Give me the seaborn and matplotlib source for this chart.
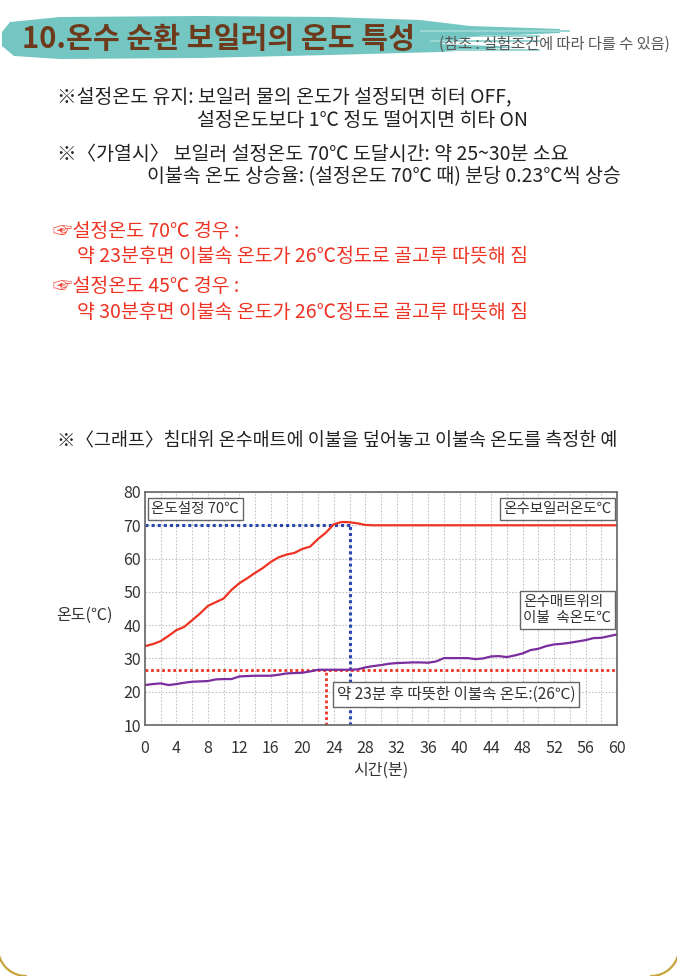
import numpy as np
import matplotlib
matplotlib.use("Agg")
import matplotlib.pyplot as plt
import seaborn as sns
from matplotlib.patches import Polygon, Rectangle
from matplotlib.lines import Line2D

# ---- data ----
minutes = np.arange(0, 61)
boiler_temp = [33.7, 34.3, 35.2, 36.8, 38.5, 39.5, 41.5, 43.5, 45.8, 46.9,
               48.0, 50.6, 52.6, 54.1, 55.7, 57.2, 59.0, 60.4, 61.2, 61.7,
               62.9, 63.6, 65.9, 67.8, 70.3, 71.0, 70.9, 70.6, 70.1, 70.0,
               70.0, 70.0, 70.0, 70.0, 70.0, 70.0, 70.0, 70.0, 70.0, 70.0,
               70.0, 70.0, 70.0, 70.0, 70.0, 70.0, 70.0, 70.0, 70.0, 70.0,
               70.0, 70.0, 70.0, 70.0, 70.0, 70.0, 70.0, 70.0, 70.0, 70.0,
               70.0]
mat_temp = [22.0, 22.3, 22.5, 22.0, 22.3, 22.7, 23.0, 23.1, 23.2, 23.7,
            23.8, 23.8, 24.6, 24.7, 24.8, 24.8, 24.8, 25.1, 25.5, 25.6,
            25.7, 26.1, 26.6, 26.6, 26.6, 26.6, 26.6, 26.7, 27.3, 27.7,
            28.0, 28.4, 28.6, 28.7, 28.8, 28.8, 28.7, 29.1, 30.1, 30.1,
            30.1, 30.1, 29.8, 30.0, 30.6, 30.7, 30.4, 30.9, 31.5, 32.5,
            32.9, 33.7, 34.2, 34.4, 34.7, 35.1, 35.5, 36.1, 36.2, 36.7,
            37.2]
set_temp = 70
reach_min = 26
warm_temp = 26.5
warm_min = 23
x_ticks = [0, 4, 8, 12, 16, 20, 24, 28, 32, 36, 40, 44, 48, 52, 56, 60]
y_ticks = [10, 20, 30, 40, 50, 60, 70, 80]

title = "10.온수 순환 보일러의 온도 특성"
note = "(참조 : 실험조건에 따라 다를 수 있음)"
info_lines = ["※설정온도 유지: 보일러 물의 온도가 설정되면 히터 OFF,",
              "설정온도보다 1℃ 정도 떨어지면 히타 ON",
              "※〈가열시〉 보일러 설정온도 70℃ 도달시간: 약 25~30분 소요",
              "이불속 온도 상승율: (설정온도 70℃ 때) 분당 0.23℃씩 상승"]
red_lines = ["☞설정온도 70℃ 경우 :",
             "약 23분후면 이불속 온도가 26℃정도로 골고루 따뜻해 짐",
             "☞설정온도 45℃ 경우 :",
             "약 30분후면 이불속 온도가 26℃정도로 골고루 따뜻해 짐"]
caption = "※〈그래프〉침대위 온수매트에 이불을 덮어놓고 이불속 온도를 측정한 예"

RED = "#ee3322"
PURPLE = "#7a2d9e"
BLUE = "#2a47b0"

sns.set_theme(style="white")
plt.rcParams['font.family'] = ['Noto Sans CJK KR', 'DejaVu Sans']

W, H = 677, 976
fig = plt.figure(figsize=(W / 100, H / 100), dpi=100)


def fx(x):
    return x / W


def fy(y):
    return 1 - y / H


# header brush stroke
brush = [(10, 22), (60, 17), (200, 16), (330, 17), (420, 20), (470, 26),
         (560, 29), (560, 33), (470, 37), (440, 44), (520, 47), (440, 52),
         (330, 55), (200, 58), (60, 59), (14, 56), (2, 46), (2, 32)]
fig.add_artist(Polygon([(fx(x), fy(y)) for x, y in brush], closed=True,
                       transform=fig.transFigure, facecolor="#74c6c2",
                       edgecolor="none", zorder=0))
for x0, y0, w, h in [(420, 30, 150, 2), (430, 40, 110, 2), (450, 49, 90, 2),
                     (480, 35, 60, 1.5)]:
    fig.add_artist(Rectangle((fx(x0), fy(y0 + h)), w / W, h / H,
                             transform=fig.transFigure, facecolor="#9ad6d3",
                             edgecolor="none", zorder=0))
fig.text(fx(22), fy(39), title, fontsize=21, fontweight="bold",
         color="#6e3a1c", va="center", ha="left")
fig.text(fx(670), fy(44), note, fontsize=11, color="#555555",
         va="center", ha="right")

# note block
for txt, x, y in zip(info_lines, [57, 197, 57, 147], [97, 120, 155, 177]):
    fig.text(fx(x), fy(y), txt, fontsize=14, color="#222222",
             va="center", ha="left")
for txt, x, y in zip(red_lines, [53, 77, 53, 77], [232, 257, 286, 312]):
    fig.text(fx(x), fy(y), txt, fontsize=14, color=RED,
             va="center", ha="left")
fig.text(fx(57), fy(440), caption, fontsize=13.3, color="#222222",
         va="center", ha="left")

# chart
ax = fig.add_axes([fx(145), fy(725), fx(617) - fx(145), fy(492) - fy(725)])
ax.set_xlim(0, 60)
ax.set_ylim(10, 80)
ax.set_xticks(x_ticks)
ax.set_xticks(np.arange(0, 61, 2), minor=True)
ax.set_yticks(y_ticks)
ax.grid(which="both", color="#c4c4c4", linestyle=(0, (1.5, 1.5)), lw=0.8)
ax.set_axisbelow(True)
for s in ax.spines.values():
    s.set_color("#666666")
    s.set_linewidth(1.2)
ax.tick_params(which="both", length=0)
ax.tick_params(axis="x", pad=11, labelsize=11.5, labelcolor="#333333")
ax.tick_params(axis="y", pad=3, labelsize=11.5, labelcolor="#333333")

dot = (0, (1, 1))
ax.plot([0, reach_min], [set_temp, set_temp], color=BLUE, lw=2.2, ls=dot)
ax.plot([reach_min, reach_min], [10, set_temp], color=BLUE, lw=2.2, ls=dot)
ax.plot([0, 60], [warm_temp, warm_temp], color=RED, lw=2.0, ls=dot)
ax.plot([warm_min, warm_min], [10, warm_temp], color=RED, lw=2.0, ls=dot)

sns.lineplot(x=minutes, y=boiler_temp, ax=ax, color=RED, lw=1.6)
sns.lineplot(x=minutes, y=mat_temp, ax=ax, color=PURPLE, lw=1.6)

box = dict(boxstyle="square,pad=0.25", facecolor="white",
           edgecolor="#666666", lw=1)
ax.text(0.8, 74.9, "온도설정 70℃", fontsize=10.5, color="#333333",
        va="center", ha="left", bbox=box)
ax.text(59.3, 74.9, "온수보일러온도℃", fontsize=10.5, color="#333333",
        va="center", ha="right", bbox=box)
ax.text(59.3, 44.5, "온수매트위의\n이불  속온도℃", fontsize=10.5,
        color="#333333", va="center", ha="right", multialignment="left",
        linespacing=1.2, bbox=box)
ax.text(24.4, 19.2, "약 23분 후 따뜻한 이불속 온도:(26℃)", fontsize=11.2,
        color="#333333", va="center", ha="left", bbox=box)
ax.set_xlabel("")
ax.set_ylabel("")
fig.text(fx(84), fy(615), "온도(℃)", fontsize=11.5, color="#333333",
         va="center", ha="center")
fig.text(fx(381), fy(770), "시간(분)", fontsize=11.5, color="#333333",
         va="center", ha="center")

# gold page frame: only the rounded bottom corners show
r = 28
t = np.linspace(np.pi / 2, np.pi, 40)
for cx, sign in [(26, 1), (W - 26, -1)]:
    xs = cx + sign * r * np.cos(t)
    ys = 948 + r * np.sin(t)
    fig.add_artist(Line2D(fx(xs), fy(ys), transform=fig.transFigure,
                          color="#c6a43a", lw=1.6))

fig.savefig("out.png", dpi=100)
